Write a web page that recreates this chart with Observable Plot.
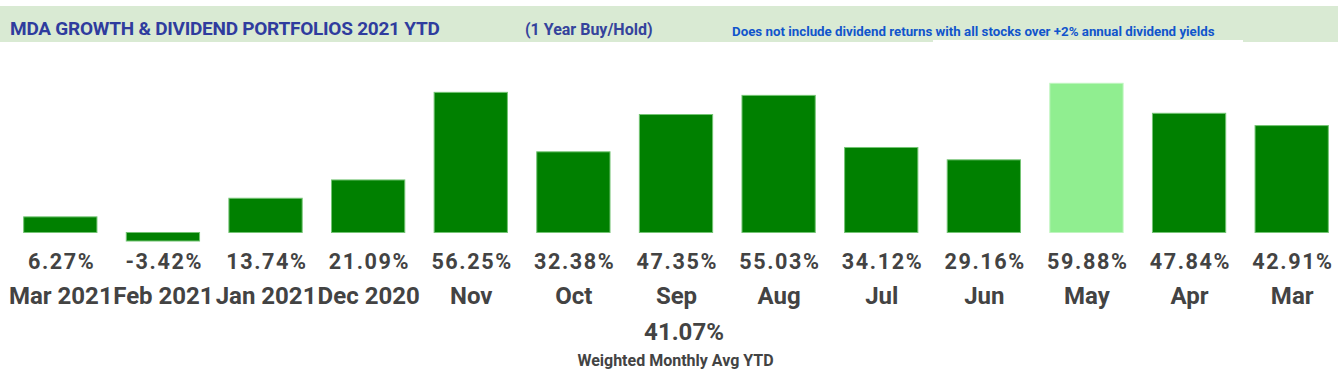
<!DOCTYPE html>
<html>
<head>
<meta charset="utf-8">
<script src="https://cdn.jsdelivr.net/npm/d3@7"></script>
<script src="https://cdn.jsdelivr.net/npm/@observablehq/plot@0.6"></script>
<style>
  html, body { margin: 0; padding: 0; background: #fff; }
  body { font-family: Roboto, "Noto Sans", sans-serif; width: 1344px; height: 379px; overflow: hidden; position: relative; }
  .abs { position: absolute; white-space: nowrap; font-weight: 700; }
  #band { position: absolute; left: 0; top: 6px; width: 1338px; height: 36px; background: #d9ead3; }
  #strip { position: absolute; left: 933px; top: 40px; width: 310px; height: 2px; background: #fff; }
  #chart { position: absolute; left: 0; top: 42px; }
  #chart svg text { font-weight: 700; }
</style>
</head>
<body>
<div id="band"></div>
<div id="strip"></div>
<div class="abs" id="title" style="left:10px; top:19px; font-size:19px; line-height:19px; color:#2f3c9e; letter-spacing:-0.25px;"></div>
<div class="abs" id="subtitle" style="left:525px; top:21.5px; font-size:16px; line-height:16px; color:#35439c;"></div>
<div class="abs" id="note" style="left:732px; top:24.8px; font-size:13.3px; line-height:13.3px; color:#1155cc;"></div>
<div id="chart"></div>
<div class="abs" id="avg" style="left:484px; width:400px; text-align:center; top:319.8px; font-size:24px; line-height:24px; color:#434343;"></div>
<div class="abs" id="avgLabel" style="left:475.5px; width:400px; text-align:center; top:352.5px; font-size:16px; line-height:16px; color:#434343;"></div>
<script>
// ---- data ----
const titleText = "MDA GROWTH & DIVIDEND PORTFOLIOS 2021 YTD";
const subtitleText = "(1 Year Buy/Hold)";
const noteText = "Does not include dividend returns with all stocks over +2% annual dividend yields";
const months = ["Mar 2021", "Feb 2021", "Jan 2021", "Dec 2020", "Nov", "Oct", "Sep", "Aug", "Jul", "Jun", "May", "Apr", "Mar"];
const returns = [6.27, -3.42, 13.74, 21.09, 56.25, 32.38, 47.35, 55.03, 34.12, 29.16, 59.88, 47.84, 42.91];
const highlightMonth = "May";
const weightedAvg = 41.07;
const weightedAvgLabel = "Weighted Monthly Avg YTD";

document.getElementById("title").textContent = titleText;
document.getElementById("subtitle").textContent = subtitleText;
document.getElementById("note").textContent = noteText;
document.getElementById("avg").textContent = weightedAvg.toFixed(2) + "%";
document.getElementById("avgLabel").textContent = weightedAvgLabel;

const data = months.map((m, i) => ({month: m, value: returns[i]}));
const fmt = v => v.toFixed(2) + "%";

const chart = Plot.plot({
  width: 1344,
  height: 268,
  marginLeft: 9,
  marginRight: 1,
  marginTop: 41,
  marginBottom: 52.6,
  style: {fontFamily: "Roboto, 'Noto Sans', sans-serif", background: "transparent"},
  x: {domain: months, paddingInner: 0.286, paddingOuter: 0.143, round: false, axis: null},
  y: {domain: [-10, 60], axis: null},
  color: {type: "identity"},
  marks: [
    Plot.barY(data, {
      x: "month",
      y: "value",
      fill: d => d.month === highlightMonth ? "#90ee90" : "#008000",
      stroke: d => d.month === highlightMonth ? "#bff5bf" : "#74c474",
      strokeWidth: 1
    }),
    Plot.text(data, {
      x: "month",
      text: d => fmt(d.value),
      frameAnchor: "bottom",
      lineAnchor: "middle",
      dy: 3.9,
      dx: 0.8,
      fontSize: 21.6,
      fill: "#434343",
      ariaLabel: "values"
    }),
    Plot.axisX({
      tickSize: 0,
      tickPadding: 28.6,
      fontSize: 24,
      fill: "#434343",
      label: null
    })
  ]
});
d3.select(chart).selectAll("text")
  .filter(function() { return this.textContent.endsWith("%"); })
  .style("letter-spacing", "1.6px");
document.getElementById("chart").appendChild(chart);
</script>
</body>
</html>
